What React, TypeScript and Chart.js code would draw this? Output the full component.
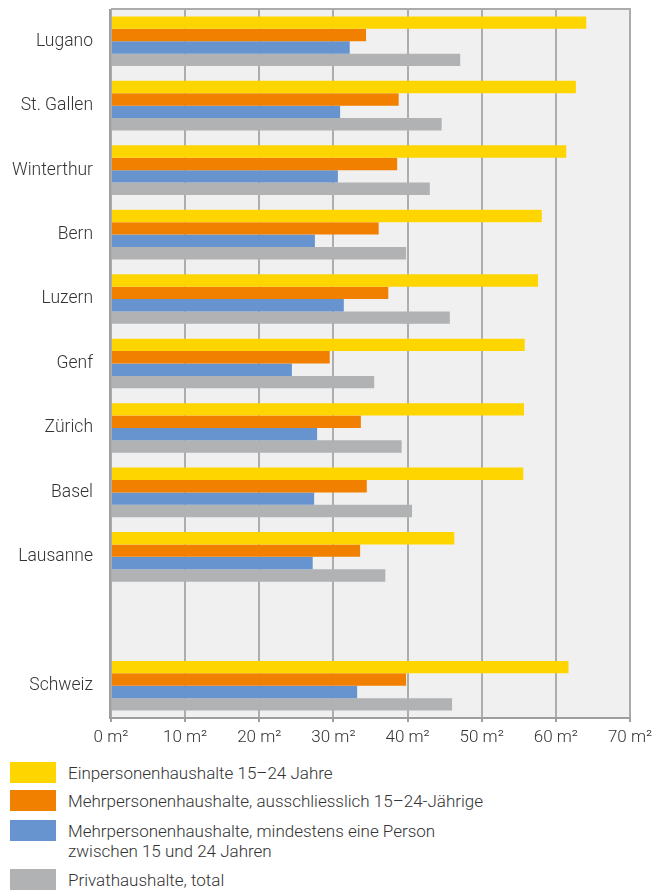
import React, { useEffect, useRef } from "react";
import { Chart, registerables } from "chart.js";

Chart.register(...registerables);

const categories = ["Lugano", "St. Gallen", "Winterthur", "Bern", "Luzern", "Genf", "Zürich", "Basel", "Lausanne", "", "Schweiz"];
const einpersonen = [64.1, 62.7, 61.4, 58.1, 57.6, 55.8, 55.7, 55.6, 46.3, null, 61.7];
const mehrAusschl = [34.4, 38.8, 38.6, 36.1, 37.4, 29.5, 33.7, 34.5, 33.6, null, 39.8];
const mehrMind = [32.2, 30.9, 30.6, 27.5, 31.4, 24.4, 27.8, 27.4, 27.2, null, 33.2];
const privatTotal = [47.1, 44.6, 43.0, 39.8, 45.7, 35.5, 39.2, 40.6, 37.0, null, 46.0];
const seriesLabels = [
  "Einpersonenhaushalte 15–24 Jahre",
  "Mehrpersonenhaushalte, ausschliesslich 15–24-Jährige",
  "Mehrpersonenhaushalte, mindestens eine Person\nzwischen 15 und 24 Jahren",
  "Privathaushalte, total",
];
const seriesColors = ["#FFD500", "#F28000", "#6794CE", "#B1B2B3"];
const xTicks = [0, 10, 20, 30, 40, 50, 60, 70];

const FONT = "Roboto, 'Noto Sans', sans-serif";

const areaPlugin = {
  id: "areaPlugin",
  beforeDraw(chart: any) {
    const { ctx, chartArea: a } = chart;
    ctx.save();
    ctx.fillStyle = "#F0F0F0";
    ctx.fillRect(a.left, a.top, a.right - a.left, a.bottom - a.top);
    ctx.restore();
  },
  afterDraw(chart: any) {
    const { ctx, chartArea: a } = chart;
    ctx.save();
    ctx.strokeStyle = "#ABABAB";
    ctx.lineWidth = 2;
    ctx.beginPath();
    ctx.moveTo(a.left, a.top);
    ctx.lineTo(a.right, a.top);
    ctx.lineTo(a.right, a.bottom);
    ctx.stroke();
    ctx.strokeStyle = "#9E9E9E";
    ctx.beginPath();
    ctx.moveTo(a.left - 1, a.top);
    ctx.lineTo(a.left - 1, a.bottom);
    ctx.lineTo(a.right, a.bottom);
    ctx.stroke();
    ctx.restore();
  },
};

export default function App() {
  const ref = useRef<HTMLCanvasElement | null>(null);

  useEffect(() => {
    document.body.style.margin = "0";
    const data = [einpersonen, mehrAusschl, mehrMind, privatTotal];
    const chart = new Chart(ref.current as HTMLCanvasElement, {
      type: "bar",
      data: {
        labels: categories,
        datasets: data.map((d, i) => ({
          label: seriesLabels[i],
          data: d as any,
          backgroundColor: seriesColors[i],
          borderWidth: 0,
          categoryPercentage: 0.77,
          barPercentage: 1.0,
        })),
      },
      options: {
        indexAxis: "y",
        animation: false,
        responsive: false,
        maintainAspectRatio: false,
        layout: { padding: { top: 9, right: 36, left: 0, bottom: 0 } },
        plugins: { legend: { display: false }, tooltip: { enabled: false } },
        scales: {
          x: {
            min: 0,
            max: 70,
            afterBuildTicks: (s: any) => {
              s.ticks = xTicks.map((v) => ({ value: v }));
            },
            afterFit: (s: any) => {
              s.height = 32;
              s.paddingLeft = 0;
              s.paddingRight = 0;
            },
            grid: {
              color: "#ADADAD",
              lineWidth: 2,
              drawTicks: true,
              tickLength: 4,
              tickColor: "#9E9E9E",
            },
            border: { display: false },
            ticks: {
              padding: 6,
              color: "#333333",
              font: { family: FONT, size: 17, weight: 300 as any },
              callback: (v: any) => `${v} m²`,
              maxRotation: 0,
            },
          },
          y: {
            afterFit: (s: any) => {
              s.width = 111;
              s.paddingTop = 0;
              s.paddingBottom = 0;
            },
            grid: { display: false, drawTicks: false },
            border: { display: false },
            ticks: {
              padding: 18,
              color: "#333333",
              font: { family: FONT, size: 17.5, weight: 300 as any },
            },
          },
        },
      },
      plugins: [areaPlugin],
    });
    return () => chart.destroy();
  }, []);

  const rowTops = [762, 790, 820, 869];

  return (
    <div style={{ position: "relative", width: 666, height: 893, fontFamily: FONT }}>
      <canvas ref={ref} width={666} height={750} style={{ display: "block", width: 666, height: 750 }} />
      {seriesLabels.map((l, i) => (
        <div
          key={i}
          style={{ position: "absolute", left: 10, top: rowTops[i], display: "flex", alignItems: "flex-start" }}
        >
          <div style={{ width: 46, height: 21, background: seriesColors[i], flex: "0 0 auto" }} />
          <div
            style={{
              marginLeft: 12,
              fontSize: 17,
              fontWeight: 300,
              lineHeight: "20px",
              paddingTop: 1,
              color: "#333333",
              whiteSpace: "pre",
            }}
          >
            {l}
          </div>
        </div>
      ))}
    </div>
  );
}
